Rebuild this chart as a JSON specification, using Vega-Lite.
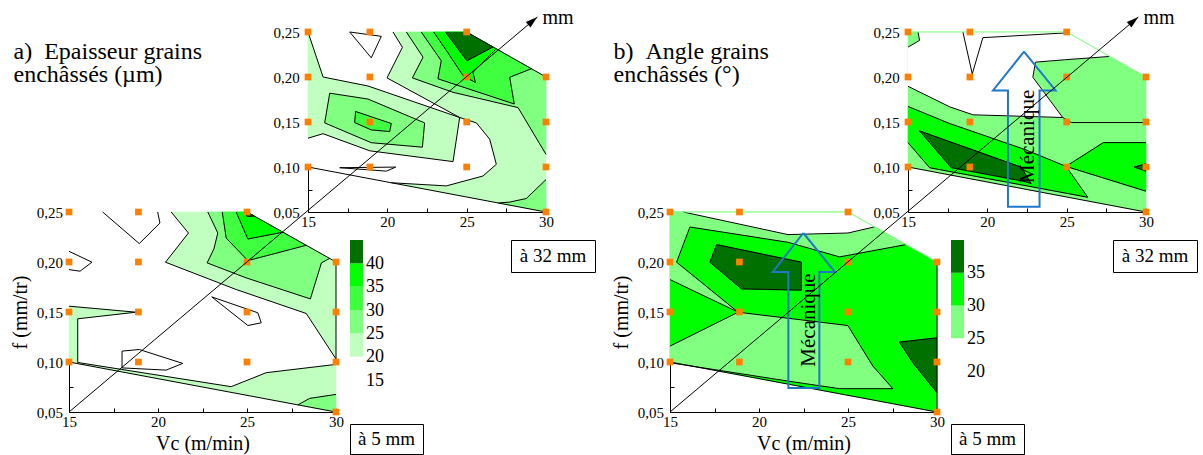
{
"$schema":"https://vega.github.io/schema/vega-lite/v6.json",
"background":"white",
"padding":{"left":10,"top":8,"right":2,"bottom":0},
"config":{
 "view":{"stroke":null},
 "font":"Liberation Serif, DejaVu Serif, serif",
 "axis":{"domainColor":"black","domainWidth":1,"tickColor":"black","tickSize":-4,"tickWidth":1,"labelColor":"black","labelFont":"Liberation Serif, DejaVu Serif, serif","labelFontSize":15,"labelOverlap":false,"labelFlush":false,"titleFont":"Liberation Serif, DejaVu Serif, serif","titleFontSize":20,"titleFontWeight":"normal","titleColor":"black","grid":false},
 "axisX":{"labelPadding":6.35,"titlePadding":4.5},
 "axisY":{"labelPadding":10.6,"titlePadding":6},
 "text":{"font":"Liberation Serif, DejaVu Serif, serif"}
},
"datasets":{
"pts":[{"x":15,"y":0.25},{"x":18.9,"y":0.25},{"x":25,"y":0.25},{"x":15,"y":0.2},{"x":18.9,"y":0.2},{"x":25,"y":0.2},{"x":30,"y":0.2},{"x":15,"y":0.15},{"x":18.9,"y":0.15},{"x":25,"y":0.15},{"x":30,"y":0.15},{"x":15,"y":0.1},{"x":18.9,"y":0.1},{"x":25,"y":0.1},{"x":30,"y":0.1},{"x":30,"y":0.05}],
"taP":[
{"l":0,"p":"b","x":15,"y":0.25},{"l":0,"p":"b","x":25,"y":0.25},{"l":0,"p":"b","x":30,"y":0.2},{"l":0,"p":"b","x":30,"y":0.05},{"l":0,"p":"b","x":15,"y":0.1},
{"l":1,"p":"r1","x":20.36,"y":0.25},{"l":1,"p":"r1","x":20.95,"y":0.233},{"l":1,"p":"r1","x":19.98,"y":0.199},{"l":1,"p":"r1","x":24.56,"y":0.155},{"l":1,"p":"r1","x":25.61,"y":0.149},{"l":1,"p":"r1","x":26.45,"y":0.131},{"l":1,"p":"r1","x":26.87,"y":0.103},{"l":1,"p":"r1","x":26.03,"y":0.09},{"l":1,"p":"r1","x":23.72,"y":0.079},{"l":1,"p":"r1","x":20.25,"y":0.0825},{"l":1,"p":"r1","x":30,"y":0.05},{"l":1,"p":"r1","x":30,"y":0.2},{"l":1,"p":"r1","x":25,"y":0.25},
{"l":1,"p":"r2","x":15,"y":0.25},{"l":1,"p":"r2","x":15.95,"y":0.2},{"l":1,"p":"r2","x":18.78,"y":0.19},{"l":1,"p":"r2","x":24.56,"y":0.155},{"l":1,"p":"r2","x":24.14,"y":0.106},{"l":1,"p":"r2","x":18.89,"y":0.118},{"l":1,"p":"r2","x":15.95,"y":0.137},{"l":1,"p":"r2","x":15,"y":0.132},
{"l":2,"p":"m1","x":21.2,"y":0.25},{"l":2,"p":"m1","x":22.25,"y":0.222},{"l":2,"p":"m1","x":21.58,"y":0.199},{"l":2,"p":"m1","x":24.14,"y":0.183},{"l":2,"p":"m1","x":28.24,"y":0.166},{"l":2,"p":"m1","x":30,"y":0.114},{"l":2,"p":"m1","x":30,"y":0.2},{"l":2,"p":"m1","x":25,"y":0.25},
{"l":2,"p":"m2","x":16.37,"y":0.182},{"l":2,"p":"m2","x":18.78,"y":0.1755},{"l":2,"p":"m2","x":22.35,"y":0.149},{"l":2,"p":"m2","x":22.21,"y":0.122},{"l":2,"p":"m2","x":18.99,"y":0.127},{"l":2,"p":"m2","x":16.05,"y":0.149},
{"l":2,"p":"m3","x":30,"y":0.086},{"l":2,"p":"m3","x":28.76,"y":0.065},{"l":2,"p":"m3","x":27.71,"y":0.061},{"l":2,"p":"m3","x":27,"y":0.06},{"l":2,"p":"m3","x":30,"y":0.05},
{"l":3,"p":"t1","x":22.14,"y":0.25},{"l":3,"p":"t1","x":23.4,"y":0.218},{"l":3,"p":"t1","x":23.19,"y":0.198},{"l":3,"p":"t1","x":28,"y":0.17},{"l":3,"p":"t1","x":27.71,"y":0.1997},{"l":3,"p":"t1","x":29.08,"y":0.2092},{"l":3,"p":"t1","x":25,"y":0.25},
{"l":3,"p":"t2","x":18,"y":0.1617},{"l":3,"p":"t2","x":20.25,"y":0.1483},{"l":3,"p":"t2","x":20.15,"y":0.1394},{"l":3,"p":"t2","x":18.99,"y":0.1412},{"l":3,"p":"t2","x":17.94,"y":0.1494},
{"l":4,"p":"u1","x":22.92,"y":0.25},{"l":4,"p":"u1","x":23.72,"y":0.2295},{"l":4,"p":"u1","x":24.77,"y":0.2016},{"l":4,"p":"u1","x":25.55,"y":0.1938},{"l":4,"p":"u1","x":25.4,"y":0.2053},{"l":4,"p":"u1","x":26.87,"y":0.2313},{"l":4,"p":"u1","x":25,"y":0.25},
{"l":5,"p":"d1","x":23.66,"y":0.25},{"l":5,"p":"d1","x":25.02,"y":0.218},{"l":5,"p":"d1","x":26.66,"y":0.2334},{"l":5,"p":"d1","x":25,"y":0.25}
],
"taL":[
{"p":"g1","x":20.36,"y":0.25},{"p":"g1","x":20.95,"y":0.233},{"p":"g1","x":19.98,"y":0.199},{"p":"g1","x":24.56,"y":0.155},{"p":"g1","x":25.61,"y":0.149},{"p":"g1","x":26.45,"y":0.131},{"p":"g1","x":26.87,"y":0.103},{"p":"g1","x":26.03,"y":0.09},{"p":"g1","x":23.72,"y":0.079},{"p":"g1","x":20.25,"y":0.0825},
{"p":"g2","x":15,"y":0.25},{"p":"g2","x":15.95,"y":0.2},{"p":"g2","x":18.78,"y":0.19},{"p":"g2","x":24.56,"y":0.155},{"p":"g2","x":24.14,"y":0.106},{"p":"g2","x":18.89,"y":0.118},{"p":"g2","x":15.95,"y":0.137},{"p":"g2","x":15,"y":0.132},
{"p":"g3","x":21.2,"y":0.25},{"p":"g3","x":22.25,"y":0.222},{"p":"g3","x":21.58,"y":0.199},{"p":"g3","x":24.14,"y":0.183},{"p":"g3","x":28.24,"y":0.166},{"p":"g3","x":30,"y":0.114},
{"p":"g4","x":16.37,"y":0.182},{"p":"g4","x":18.78,"y":0.1755},{"p":"g4","x":22.35,"y":0.149},{"p":"g4","x":22.21,"y":0.122},{"p":"g4","x":18.99,"y":0.127},{"p":"g4","x":16.05,"y":0.149},{"p":"g4","x":16.37,"y":0.182},
{"p":"g5","x":30,"y":0.086},{"p":"g5","x":28.76,"y":0.065},{"p":"g5","x":27.71,"y":0.061},{"p":"g5","x":27,"y":0.06},
{"p":"g6","x":22.14,"y":0.25},{"p":"g6","x":23.4,"y":0.218},{"p":"g6","x":23.19,"y":0.198},{"p":"g6","x":28,"y":0.17},{"p":"g6","x":27.71,"y":0.1997},{"p":"g6","x":29.08,"y":0.2092},
{"p":"g7","x":18,"y":0.1617},{"p":"g7","x":20.25,"y":0.1483},{"p":"g7","x":20.15,"y":0.1394},{"p":"g7","x":18.99,"y":0.1412},{"p":"g7","x":17.94,"y":0.1494},{"p":"g7","x":18,"y":0.1617},
{"p":"g8","x":22.92,"y":0.25},{"p":"g8","x":23.72,"y":0.2295},{"p":"g8","x":24.77,"y":0.2016},{"p":"g8","x":25.55,"y":0.1938},{"p":"g8","x":25.4,"y":0.2053},{"p":"g8","x":26.87,"y":0.2313},
{"p":"g9","x":23.66,"y":0.25},{"p":"g9","x":25.02,"y":0.218},{"p":"g9","x":26.66,"y":0.2334},
{"p":"g10","x":17.63,"y":0.25},{"p":"g10","x":19.62,"y":0.2452},{"p":"g10","x":18.99,"y":0.2213},{"p":"g10","x":17.63,"y":0.25},
{"p":"g11","x":17,"y":0.0992},{"p":"g11","x":20.53,"y":0.0999},{"p":"g11","x":19.94,"y":0.0954},{"p":"g11","x":17,"y":0.0992},
{"p":"g12","x":15,"y":0.1},{"p":"g12","x":30,"y":0.05},
{"p":"g13","x":25,"y":0.25},{"p":"g13","x":30,"y":0.2}
],
"baP":[
{"l":0,"p":"b","x":15,"y":0.25},{"l":0,"p":"b","x":25,"y":0.25},{"l":0,"p":"b","x":30,"y":0.2},{"l":0,"p":"b","x":30,"y":0.05},{"l":0,"p":"b","x":15,"y":0.1},
{"l":1,"p":"r1","x":20.74,"y":0.25},{"l":1,"p":"r1","x":21.71,"y":0.229},{"l":1,"p":"r1","x":20.42,"y":0.1998},{"l":1,"p":"r1","x":24.39,"y":0.1725},{"l":1,"p":"r1","x":28.33,"y":0.1485},{"l":1,"p":"r1","x":30,"y":0.103},{"l":1,"p":"r1","x":30,"y":0.2},{"l":1,"p":"r1","x":25,"y":0.25},
{"l":1,"p":"r2","x":15,"y":0.1558},{"l":1,"p":"r2","x":18.77,"y":0.1498},{"l":1,"p":"r2","x":15.49,"y":0.1432},{"l":1,"p":"r2","x":15.49,"y":0.0995},{"l":1,"p":"r2","x":24.11,"y":0.0753},{"l":1,"p":"r2","x":26.08,"y":0.0893},{"l":1,"p":"r2","x":30,"y":0.0976},{"l":1,"p":"r2","x":30,"y":0.05},{"l":1,"p":"r2","x":15,"y":0.1},
{"l":2,"p":"m1","x":22.8,"y":0.25},{"l":2,"p":"m1","x":23.36,"y":0.229},{"l":2,"p":"m1","x":23.14,"y":0.2131},{"l":2,"p":"m1","x":22.76,"y":0.1991},{"l":2,"p":"m1","x":24.96,"y":0.1841},{"l":2,"p":"m1","x":28.56,"y":0.1631},{"l":2,"p":"m1","x":29.18,"y":0.1991},{"l":2,"p":"m1","x":29.64,"y":0.2036},{"l":2,"p":"m1","x":25,"y":0.25},
{"l":2,"p":"m2","x":30,"y":0.0676},{"l":2,"p":"m2","x":28.52,"y":0.0636},{"l":2,"p":"m2","x":27.86,"y":0.0571},{"l":2,"p":"m2","x":30,"y":0.05},
{"l":3,"p":"t1","x":23.61,"y":0.25},{"l":3,"p":"t1","x":23.83,"y":0.224},{"l":3,"p":"t1","x":25.05,"y":0.2014},{"l":3,"p":"t1","x":28.33,"y":0.2167},{"l":3,"p":"t1","x":25,"y":0.25},
{"l":4,"p":"u1","x":24.39,"y":0.25},{"l":4,"p":"u1","x":25.05,"y":0.223},{"l":4,"p":"u1","x":27.02,"y":0.2298},{"l":4,"p":"u1","x":25,"y":0.25},
{"l":5,"p":"d1","x":24.86,"y":0.25},{"l":5,"p":"d1","x":25,"y":0.2455},{"l":5,"p":"d1","x":25.4,"y":0.246},{"l":5,"p":"d1","x":25,"y":0.25}
],
"baL":[
{"p":"g1","x":20.74,"y":0.25},{"p":"g1","x":21.71,"y":0.229},{"p":"g1","x":20.42,"y":0.1998},{"p":"g1","x":24.39,"y":0.1725},{"p":"g1","x":28.33,"y":0.1485},{"p":"g1","x":30,"y":0.103},
{"p":"g2","x":15,"y":0.1558},{"p":"g2","x":18.77,"y":0.1498},{"p":"g2","x":15.49,"y":0.1432},{"p":"g2","x":15.49,"y":0.0995},{"p":"g2","x":24.11,"y":0.0753},{"p":"g2","x":26.08,"y":0.0893},{"p":"g2","x":30,"y":0.0976},
{"p":"g3","x":22.8,"y":0.25},{"p":"g3","x":23.36,"y":0.229},{"p":"g3","x":23.14,"y":0.2131},{"p":"g3","x":22.76,"y":0.1991},{"p":"g3","x":24.96,"y":0.1841},{"p":"g3","x":28.56,"y":0.1631},{"p":"g3","x":29.18,"y":0.1991},{"p":"g3","x":29.64,"y":0.2036},
{"p":"g4","x":30,"y":0.0676},{"p":"g4","x":28.52,"y":0.0636},{"p":"g4","x":27.86,"y":0.0571},
{"p":"g5","x":23.61,"y":0.25},{"p":"g5","x":23.83,"y":0.224},{"p":"g5","x":25.05,"y":0.2014},{"p":"g5","x":28.33,"y":0.2167},
{"p":"g6","x":24.39,"y":0.25},{"p":"g6","x":25.05,"y":0.223},{"p":"g6","x":27.02,"y":0.2298},
{"p":"g7","x":24.86,"y":0.25},{"p":"g7","x":25,"y":0.2455},{"p":"g7","x":25.4,"y":0.246},
{"p":"g8","x":16.89,"y":0.25},{"p":"g8","x":18.95,"y":0.2184},{"p":"g8","x":20.11,"y":0.239},{"p":"g8","x":19.98,"y":0.25},
{"p":"g9","x":15,"y":0.2107},{"p":"g9","x":16.29,"y":0.1998},{"p":"g9","x":15.62,"y":0.1908},{"p":"g9","x":15,"y":0.1924},
{"p":"g10","x":23.02,"y":0.1651},{"p":"g10","x":25.61,"y":0.1492},{"p":"g10","x":25.8,"y":0.1392},{"p":"g10","x":25.05,"y":0.1365},{"p":"g10","x":23.02,"y":0.1651},
{"p":"g11","x":17.98,"y":0.1109},{"p":"g11","x":18.95,"y":0.1125},{"p":"g11","x":21.39,"y":0.0986},{"p":"g11","x":20.46,"y":0.0919},{"p":"g11","x":17.98,"y":0.0941},{"p":"g11","x":17.98,"y":0.1109},
{"p":"g12","x":15,"y":0.1},{"p":"g12","x":30,"y":0.05},
{"p":"g13","x":25,"y":0.25},{"p":"g13","x":30,"y":0.2},
{"p":"g14","x":30,"y":0.2},{"p":"g14","x":30,"y":0.103}
],
"tbP":[
{"l":0,"p":"b","x":15,"y":0.25},{"l":0,"p":"b","x":25,"y":0.25},{"l":0,"p":"b","x":30,"y":0.2},{"l":0,"p":"b","x":30,"y":0.05},{"l":0,"p":"b","x":15,"y":0.1},
{"l":1,"p":"w","x":15.63,"y":0.25},{"l":1,"p":"w","x":25,"y":0.25},{"l":1,"p":"w","x":27.69,"y":0.2228},{"l":1,"p":"w","x":24.86,"y":0.2191},{"l":1,"p":"w","x":23.03,"y":0.2165},{"l":1,"p":"w","x":22.87,"y":0.1997},{"l":1,"p":"w","x":24.75,"y":0.155},{"l":1,"p":"w","x":19.09,"y":0.158},{"l":1,"p":"w","x":17.62,"y":0.1669},{"l":1,"p":"w","x":15,"y":0.1897},{"l":1,"p":"w","x":15,"y":0.2332},{"l":1,"p":"w","x":15.73,"y":0.2407},
{"l":2,"p":"b1","x":15,"y":0.1673},{"l":2,"p":"b1","x":17.62,"y":0.1483},{"l":2,"p":"b1","x":22.34,"y":0.1196},{"l":2,"p":"b1","x":24.96,"y":0.1007},{"l":2,"p":"b1","x":26.33,"y":0.0664},{"l":2,"p":"b1","x":16.36,"y":0.0992},{"l":2,"p":"b1","x":15,"y":0.1271},
{"l":2,"p":"b2","x":24.96,"y":0.1007},{"l":2,"p":"b2","x":27.31,"y":0.1271},{"l":2,"p":"b2","x":30,"y":0.1271},{"l":2,"p":"b2","x":30,"y":0.0731},
{"l":3,"p":"d1","x":15.73,"y":0.1401},{"l":3,"p":"d1","x":17.73,"y":0.0992},{"l":3,"p":"d1","x":22.24,"y":0.0843},{"l":3,"p":"d1","x":22.76,"y":0.0817},{"l":3,"p":"d1","x":22.13,"y":0.0999},
{"l":3,"p":"d2","x":29.26,"y":0.0999},{"l":3,"p":"d2","x":30,"y":0.1036},{"l":3,"p":"d2","x":30,"y":0.0954}
],
"tbL":[
{"p":"g1","x":27.69,"y":0.2228},{"p":"g1","x":24.86,"y":0.2191},{"p":"g1","x":23.03,"y":0.2165},{"p":"g1","x":22.87,"y":0.1997},{"p":"g1","x":24.75,"y":0.155},{"p":"g1","x":19.09,"y":0.158},{"p":"g1","x":17.62,"y":0.1669},{"p":"g1","x":15,"y":0.1897},
{"p":"g2","x":15,"y":0.2332},{"p":"g2","x":15.73,"y":0.2407},{"p":"g2","x":15.63,"y":0.25},
{"p":"g3","x":18.46,"y":0.25},{"p":"g3","x":19.05,"y":0.2034},{"p":"g3","x":19.72,"y":0.2437},{"p":"g3","x":24.86,"y":0.2489},
{"p":"g4","x":24.75,"y":0.155},{"p":"g4","x":25.3,"y":0.1494},{"p":"g4","x":30,"y":0.1494},
{"p":"g5","x":15,"y":0.1673},{"p":"g5","x":17.62,"y":0.1483},{"p":"g5","x":22.34,"y":0.1196},{"p":"g5","x":24.96,"y":0.1007},{"p":"g5","x":26.33,"y":0.0664},{"p":"g5","x":16.36,"y":0.0992},{"p":"g5","x":15,"y":0.1271},
{"p":"g6","x":30,"y":0.1271},{"p":"g6","x":27.31,"y":0.1271},{"p":"g6","x":24.96,"y":0.1007},{"p":"g6","x":30,"y":0.0731},
{"p":"g7","x":15.73,"y":0.1401},{"p":"g7","x":17.73,"y":0.0992},{"p":"g7","x":22.24,"y":0.0843},{"p":"g7","x":22.76,"y":0.0817},{"p":"g7","x":22.13,"y":0.0999},{"p":"g7","x":15.73,"y":0.1401},
{"p":"g8","x":30,"y":0.1036},{"p":"g8","x":29.26,"y":0.0999},{"p":"g8","x":30,"y":0.0954},
{"p":"g9","x":15,"y":0.1},{"p":"g9","x":30,"y":0.05}
],
"bbP":[
{"l":0,"p":"b","x":15,"y":0.25},{"l":0,"p":"b","x":25,"y":0.25},{"l":0,"p":"b","x":30,"y":0.2},{"l":0,"p":"b","x":30,"y":0.05},{"l":0,"p":"b","x":15,"y":0.1},
{"l":1,"p":"a","x":15,"y":0.25},{"l":1,"p":"a","x":25,"y":0.25},{"l":1,"p":"a","x":28.26,"y":0.2174},{"l":1,"p":"a","x":24.53,"y":0.2051},{"l":1,"p":"a","x":21.63,"y":0.2197},{"l":1,"p":"a","x":16.12,"y":0.235},{"l":1,"p":"a","x":15.37,"y":0.1998},{"l":1,"p":"a","x":18.83,"y":0.1498},{"l":1,"p":"a","x":15,"y":0.1824},
{"l":1,"p":"c","x":15,"y":0.1159},{"l":1,"p":"c","x":18.83,"y":0.1498},{"l":1,"p":"c","x":24.99,"y":0.1365},{"l":1,"p":"c","x":26.4,"y":0.0959},{"l":1,"p":"c","x":27.52,"y":0.0733},{"l":1,"p":"c","x":24.53,"y":0.0733},{"l":1,"p":"c","x":21.63,"y":0.0809},{"l":1,"p":"c","x":15,"y":0.0993},
{"l":2,"p":"w","x":15.75,"y":0.25},{"l":2,"p":"w","x":25,"y":0.25},{"l":2,"p":"w","x":26.49,"y":0.2351},{"l":2,"p":"w","x":25,"y":0.229},{"l":2,"p":"w","x":21.63,"y":0.2274},
{"l":3,"p":"d1","x":17.62,"y":0.2174},{"l":3,"p":"d1","x":22.38,"y":0.1998},{"l":3,"p":"d1","x":22.38,"y":0.1718},{"l":3,"p":"d1","x":19.02,"y":0.1731},{"l":3,"p":"d1","x":17.24,"y":0.1998},
{"l":3,"p":"d2","x":27.89,"y":0.1199},{"l":3,"p":"d2","x":30,"y":0.1242},{"l":3,"p":"d2","x":30,"y":0.0693},{"l":3,"p":"d2","x":28.64,"y":0.0993}
],
"bbL":[
{"p":"g1","x":15.75,"y":0.25},{"p":"g1","x":21.63,"y":0.2274},{"p":"g1","x":25,"y":0.229},{"p":"g1","x":26.49,"y":0.2351},
{"p":"g2","x":28.26,"y":0.2174},{"p":"g2","x":24.53,"y":0.2051},{"p":"g2","x":21.63,"y":0.2197},{"p":"g2","x":16.12,"y":0.235},{"p":"g2","x":15.37,"y":0.1998},{"p":"g2","x":18.83,"y":0.1498},{"p":"g2","x":15,"y":0.1824},
{"p":"g3","x":15,"y":0.1159},{"p":"g3","x":18.83,"y":0.1498},{"p":"g3","x":24.99,"y":0.1365},{"p":"g3","x":26.4,"y":0.0959},{"p":"g3","x":27.52,"y":0.0733},{"p":"g3","x":24.53,"y":0.0733},{"p":"g3","x":21.63,"y":0.0809},{"p":"g3","x":15,"y":0.0993},
{"p":"g4","x":17.62,"y":0.2174},{"p":"g4","x":22.38,"y":0.1998},{"p":"g4","x":22.38,"y":0.1718},{"p":"g4","x":19.02,"y":0.1731},{"p":"g4","x":17.24,"y":0.1998},{"p":"g4","x":17.62,"y":0.2174},
{"p":"g5","x":30,"y":0.1242},{"p":"g5","x":27.89,"y":0.1199},{"p":"g5","x":28.64,"y":0.0993},{"p":"g5","x":30,"y":0.0693},
{"p":"g6","x":15,"y":0.1},{"p":"g6","x":30,"y":0.05},
{"p":"g7","x":30,"y":0.2},{"p":"g7","x":30,"y":0.05}
]
},
"concat":[
{"width":239,"height":180,"data":{"values":[]},"mark":"point"},
{"width":42,"height":180,
 "title":{"text":["a)\u00a0\u00a0Epaisseur grains","\u00a0\u00a0\u00a0\u00a0\u00a0enchâssés (µm)"],"anchor":"start","frame":"group","orient":"top","align":"left","baseline":"alphabetic","offset":0,"dx":-294.5,"dy":81,"fontSize":24,"font":"Liberation Serif, DejaVu Serif, serif","fontWeight":"normal","color":"black","lineHeight":23.5},
 "encoding":{
  "x":{"field":"x","type":"quantitative","scale":{"domain":[15,30],"range":[0,238],"nice":false,"zero":false},"axis":{"title":null,"values":[15,17.5,20,22.5,25,27.5,30],"labelExpr":"datum.value % 5 === 0 ? datum.label : ''"}},
  "y":{"field":"y","type":"quantitative","scale":{"domain":[0.05,0.25],"nice":false,"zero":false},"axis":{"title":null,"labelPadding":12.7,"values":[0.05,0.075,0.1,0.125,0.15,0.175,0.2,0.225,0.25],"labelExpr":"round(datum.value*1000) % 50 === 0 ? replace(format(datum.value, '.2f'), '.', ',') : ''"}}
 },
 "layer":[
  {"data":{"name":"taP"},"transform":[{"filter":"datum.l==0"}],"mark":{"type":"line","interpolate":"linear-closed","fill":"#ffffff","stroke":"#ffffff","strokeWidth":0.5},"encoding":{"detail":{"field":"p","type":"nominal"},"order":{"value":null}}},
  {"data":{"name":"taP"},"transform":[{"filter":"datum.l==1"}],"mark":{"type":"line","interpolate":"linear-closed","fill":"#c0ffc0","stroke":"#c0ffc0","strokeWidth":0.5},"encoding":{"detail":{"field":"p","type":"nominal"},"order":{"value":null}}},
  {"data":{"name":"taP"},"transform":[{"filter":"datum.l==2"}],"mark":{"type":"line","interpolate":"linear-closed","fill":"#80ff80","stroke":"#80ff80","strokeWidth":0.5},"encoding":{"detail":{"field":"p","type":"nominal"},"order":{"value":null}}},
  {"data":{"name":"taP"},"transform":[{"filter":"datum.l==3"}],"mark":{"type":"line","interpolate":"linear-closed","fill":"#40ff40","stroke":"#40ff40","strokeWidth":0.5},"encoding":{"detail":{"field":"p","type":"nominal"},"order":{"value":null}}},
  {"data":{"name":"taP"},"transform":[{"filter":"datum.l==4"}],"mark":{"type":"line","interpolate":"linear-closed","fill":"#00ff00","stroke":"#00ff00","strokeWidth":0.5},"encoding":{"detail":{"field":"p","type":"nominal"},"order":{"value":null}}},
  {"data":{"name":"taP"},"transform":[{"filter":"datum.l==5"}],"mark":{"type":"line","interpolate":"linear-closed","fill":"#007000","stroke":"#007000","strokeWidth":0.5},"encoding":{"detail":{"field":"p","type":"nominal"},"order":{"value":null}}},
  {"data":{"name":"taL"},"mark":{"type":"line","color":"black","strokeWidth":1},"encoding":{"detail":{"field":"p","type":"nominal"},"order":{"value":null}}},
  {"data":{"name":"pts"},"mark":{"type":"square","size":45,"color":"#ff8000","opacity":1}}
 ]},
{"width":161,"height":1,"data":{"values":[]},"mark":"point"},
{"width":159,"height":1,"data":{"values":[]},"mark":"point"},
{"width":238,"height":1,"data":{"values":[]},"mark":"point"},
{"width":43,"height":180,
 "title":{"text":["b)\u00a0\u00a0Angle grains","\u00a0\u00a0\u00a0\u00a0\u00a0enchâssés (°)"],"anchor":"start","frame":"group","orient":"top","align":"left","baseline":"alphabetic","offset":0,"dx":-294.5,"dy":81,"fontSize":24,"font":"Liberation Serif, DejaVu Serif, serif","fontWeight":"normal","color":"black","lineHeight":23.5},
 "encoding":{
  "x":{"field":"x","type":"quantitative","scale":{"domain":[15,30],"range":[0,238],"nice":false,"zero":false},"axis":{"title":null,"values":[15,17.5,20,22.5,25,27.5,30],"labelExpr":"datum.value % 5 === 0 ? datum.label : ''"}},
  "y":{"field":"y","type":"quantitative","scale":{"domain":[0.05,0.25],"nice":false,"zero":false},"axis":{"title":null,"labelPadding":12.7,"values":[0.05,0.075,0.1,0.125,0.15,0.175,0.2,0.225,0.25],"labelExpr":"round(datum.value*1000) % 50 === 0 ? replace(format(datum.value, '.2f'), '.', ',') : ''"}}
 },
 "layer":[
  {"data":{"name":"tbP"},"transform":[{"filter":"datum.l==0"}],"mark":{"type":"line","interpolate":"linear-closed","fill":"#80ff80","stroke":"#80ff80","strokeWidth":0.5},"encoding":{"detail":{"field":"p","type":"nominal"},"order":{"value":null}}},
  {"data":{"name":"tbP"},"transform":[{"filter":"datum.l==1"}],"mark":{"type":"line","interpolate":"linear-closed","fill":"#ffffff","stroke":"#ffffff","strokeWidth":0.5},"encoding":{"detail":{"field":"p","type":"nominal"},"order":{"value":null}}},
  {"data":{"name":"tbP"},"transform":[{"filter":"datum.l==2"}],"mark":{"type":"line","interpolate":"linear-closed","fill":"#00ff00","stroke":"#00ff00","strokeWidth":0.5},"encoding":{"detail":{"field":"p","type":"nominal"},"order":{"value":null}}},
  {"data":{"name":"tbP"},"transform":[{"filter":"datum.l==3"}],"mark":{"type":"line","interpolate":"linear-closed","fill":"#007000","stroke":"#007000","strokeWidth":0.5},"encoding":{"detail":{"field":"p","type":"nominal"},"order":{"value":null}}},
  {"data":{"name":"tbL"},"mark":{"type":"line","color":"black","strokeWidth":1},"encoding":{"detail":{"field":"p","type":"nominal"},"order":{"value":null}}},
  {"data":{"values":[{"x":15,"y":0.25},{"x":25,"y":0.25},{"x":30,"y":0.2}]},"mark":{"type":"line","color":"#80ff80","strokeWidth":1},"encoding":{"order":{"value":null}}},
  {"data":{"name":"pts"},"mark":{"type":"square","size":45,"color":"#ff8000","opacity":1}},
  {"data":{"values":[{"x":22.31,"y":0.2281},{"x":24.3,"y":0.1851},{"x":23.29,"y":0.1851},{"x":23.29,"y":0.0559},{"x":21.3,"y":0.0559},{"x":21.3,"y":0.1851},{"x":20.36,"y":0.1851},{"x":22.31,"y":0.2281}]},"mark":{"type":"line","color":"#1f78c8","strokeWidth":2},"encoding":{"order":{"value":null}}},
  {"data":{"values":[{"x":22.92,"y":0.134,"t":"Mécanique"}]},"mark":{"type":"text","angle":270,"align":"center","baseline":"alphabetic","fontSize":21,"color":"black"},"encoding":{"text":{"field":"t","type":"nominal"}}}
 ]},
{"width":162,"height":1,"data":{"values":[]},"mark":"point"},
{"width":84,"height":1,"data":{"values":[]},"mark":"point"},

{"width":239,"height":28,
 "encoding":{
  "x":{"field":"x","type":"quantitative","scale":{"domain":[15,30],"range":[0,267],"nice":false,"zero":false},"axis":{"title":"Vc (m/min)","offset":172,"values":[15,17.5,20,22.5,25,27.5,30],"labelExpr":"datum.value % 5 === 0 ? datum.label : ''"}},
  "y":{"field":"y","type":"quantitative","scale":{"domain":[0.05,0.25],"range":[200,0],"nice":false,"zero":false},"axis":{"title":"f (mm/tr)","values":[0.05,0.075,0.1,0.125,0.15,0.175,0.2,0.225,0.25],"labelExpr":"round(datum.value*1000) % 50 === 0 ? replace(format(datum.value, '.2f'), '.', ',') : ''"}}
 },
 "layer":[
  {"data":{"name":"baP"},"transform":[{"filter":"datum.l==0"}],"mark":{"type":"line","interpolate":"linear-closed","fill":"#ffffff","stroke":"#ffffff","strokeWidth":0.5},"encoding":{"detail":{"field":"p","type":"nominal"},"order":{"value":null}}},
  {"data":{"name":"baP"},"transform":[{"filter":"datum.l==1"}],"mark":{"type":"line","interpolate":"linear-closed","fill":"#c0ffc0","stroke":"#c0ffc0","strokeWidth":0.5},"encoding":{"detail":{"field":"p","type":"nominal"},"order":{"value":null}}},
  {"data":{"name":"baP"},"transform":[{"filter":"datum.l==2"}],"mark":{"type":"line","interpolate":"linear-closed","fill":"#80ff80","stroke":"#80ff80","strokeWidth":0.5},"encoding":{"detail":{"field":"p","type":"nominal"},"order":{"value":null}}},
  {"data":{"name":"baP"},"transform":[{"filter":"datum.l==3"}],"mark":{"type":"line","interpolate":"linear-closed","fill":"#40ff40","stroke":"#40ff40","strokeWidth":0.5},"encoding":{"detail":{"field":"p","type":"nominal"},"order":{"value":null}}},
  {"data":{"name":"baP"},"transform":[{"filter":"datum.l==4"}],"mark":{"type":"line","interpolate":"linear-closed","fill":"#00ff00","stroke":"#00ff00","strokeWidth":0.5},"encoding":{"detail":{"field":"p","type":"nominal"},"order":{"value":null}}},
  {"data":{"name":"baP"},"transform":[{"filter":"datum.l==5"}],"mark":{"type":"line","interpolate":"linear-closed","fill":"#007000","stroke":"#007000","strokeWidth":0.5},"encoding":{"detail":{"field":"p","type":"nominal"},"order":{"value":null}}},
  {"data":{"name":"baL"},"mark":{"type":"line","color":"black","strokeWidth":1},"encoding":{"detail":{"field":"p","type":"nominal"},"order":{"value":null}}},
  {"data":{"name":"pts"},"mark":{"type":"square","size":45,"color":"#ff8000","opacity":1}},
  {"data":{"values":[{"x":15,"y":0.05},{"x":41.31,"y":0.445}]},"mark":{"type":"line","color":"black","strokeWidth":1},"encoding":{"order":{"value":null}}},
  {"data":{"values":[{"x":41.31,"y":0.445}]},"mark":{"type":"point","shape":"M0,0L0.6,2L-0.6,2Z","filled":true,"color":"black","size":144,"angle":50,"opacity":1}},
  {"data":{"values":[{"x":41.6,"y":0.438,"t":"mm"}]},"mark":{"type":"text","align":"left","baseline":"alphabetic","fontSize":20,"color":"black"},"encoding":{"text":{"field":"t","type":"nominal"}}}
 ]},
{"width":1,"height":1,"data":{"values":[]},"mark":"point"},
{"width":1,"height":1,"data":{"values":[]},"mark":"point"},
{"width":1,"height":1,"data":{"values":[]},"mark":"point"},
{"width":238,"height":28,
 "encoding":{
  "x":{"field":"x","type":"quantitative","scale":{"domain":[15,30],"range":[0,267],"nice":false,"zero":false},"axis":{"title":"Vc (m/min)","offset":172,"values":[15,17.5,20,22.5,25,27.5,30],"labelExpr":"datum.value % 5 === 0 ? datum.label : ''"}},
  "y":{"field":"y","type":"quantitative","scale":{"domain":[0.05,0.25],"range":[200,0],"nice":false,"zero":false},"axis":{"title":"f (mm/tr)","values":[0.05,0.075,0.1,0.125,0.15,0.175,0.2,0.225,0.25],"labelExpr":"round(datum.value*1000) % 50 === 0 ? replace(format(datum.value, '.2f'), '.', ',') : ''"}}
 },
 "layer":[
  {"data":{"name":"bbP"},"transform":[{"filter":"datum.l==0"}],"mark":{"type":"line","interpolate":"linear-closed","fill":"#00ff00","stroke":"#00ff00","strokeWidth":0.5},"encoding":{"detail":{"field":"p","type":"nominal"},"order":{"value":null}}},
  {"data":{"name":"bbP"},"transform":[{"filter":"datum.l==1"}],"mark":{"type":"line","interpolate":"linear-closed","fill":"#80ff80","stroke":"#80ff80","strokeWidth":0.5},"encoding":{"detail":{"field":"p","type":"nominal"},"order":{"value":null}}},
  {"data":{"name":"bbP"},"transform":[{"filter":"datum.l==2"}],"mark":{"type":"line","interpolate":"linear-closed","fill":"#ffffff","stroke":"#ffffff","strokeWidth":0.5},"encoding":{"detail":{"field":"p","type":"nominal"},"order":{"value":null}}},
  {"data":{"name":"bbP"},"transform":[{"filter":"datum.l==3"}],"mark":{"type":"line","interpolate":"linear-closed","fill":"#007000","stroke":"#007000","strokeWidth":0.5},"encoding":{"detail":{"field":"p","type":"nominal"},"order":{"value":null}}},
  {"data":{"name":"bbL"},"mark":{"type":"line","color":"black","strokeWidth":1},"encoding":{"detail":{"field":"p","type":"nominal"},"order":{"value":null}}},
  {"data":{"values":[{"x":15,"y":0.25},{"x":25,"y":0.25},{"x":30,"y":0.2}]},"mark":{"type":"line","color":"#80ff80","strokeWidth":1},"encoding":{"order":{"value":null}}},
  {"data":{"name":"pts"},"mark":{"type":"square","size":45,"color":"#ff8000","opacity":1}},
  {"data":{"values":[{"x":22.49,"y":0.229},{"x":24.27,"y":0.19},{"x":23.39,"y":0.19},{"x":23.39,"y":0.074},{"x":21.65,"y":0.074},{"x":21.65,"y":0.19},{"x":20.77,"y":0.19},{"x":22.49,"y":0.229}]},"mark":{"type":"line","color":"#1f78c8","strokeWidth":2},"encoding":{"order":{"value":null}}},
  {"data":{"values":[{"x":23.15,"y":0.142,"t":"Mécanique"}]},"mark":{"type":"text","angle":270,"align":"center","baseline":"alphabetic","fontSize":21,"color":"black"},"encoding":{"text":{"field":"t","type":"nominal"}}},
  {"data":{"values":[{"x":15,"y":0.05},{"x":41.31,"y":0.445}]},"mark":{"type":"line","color":"black","strokeWidth":1},"encoding":{"order":{"value":null}}},
  {"data":{"values":[{"x":41.31,"y":0.445}]},"mark":{"type":"point","shape":"M0,0L0.6,2L-0.6,2Z","filled":true,"color":"black","size":144,"angle":50,"opacity":1}},
  {"data":{"values":[{"x":41.6,"y":0.438,"t":"mm"}]},"mark":{"type":"text","align":"left","baseline":"alphabetic","fontSize":20,"color":"black"},"encoding":{"text":{"field":"t","type":"nominal"}}}
 ]},
{"width":1,"height":1,"data":{"values":[]},"mark":"point"},
{"width":1,"height":1,"data":{"values":[]},"mark":"point"},
{"width":1,"height":1,"data":{"values":[]},"mark":"point"},

{"width":1,"height":1,"data":{"values":[]},"mark":"point"},
{"width":1,"height":1,"data":{"values":[]},"mark":"point"},
{"width":13,"height":184,"data":{"values":[{"lo":15,"hi":20,"c":"#ffffff"},{"lo":20,"hi":25,"c":"#c0ffc0"},{"lo":25,"hi":30,"c":"#80ff80"},{"lo":30,"hi":35,"c":"#40ff40"},{"lo":35,"hi":40,"c":"#00ff00"},{"lo":40,"hi":45,"c":"#007000"}]},
 "mark":{"type":"rect"},
 "encoding":{"y":{"field":"lo","type":"quantitative","scale":{"domain":[15,45],"range":[140,0],"nice":false,"zero":false},"axis":{"orient":"right","values":[15,20,25,30,35,40],"domain":false,"ticks":false,"labelPadding":2.5,"labelFontSize":18,"labelBaseline":"middle","title":null}},"y2":{"field":"hi"},"fill":{"field":"c","type":"nominal","scale":null}}},
{"width":84,"height":32,"view":{"stroke":"black","strokeWidth":1},"data":{"values":[{"t":"à 32 mm"}]},"mark":{"type":"text","fontSize":19,"color":"black"},"encoding":{"text":{"field":"t","type":"nominal"}}},
{"width":1,"height":1,"data":{"values":[]},"mark":"point"},
{"width":1,"height":1,"data":{"values":[]},"mark":"point"},
{"width":13,"height":184,"data":{"values":[{"lo":20,"hi":25,"c":"#ffffff"},{"lo":25,"hi":30,"c":"#80ff80"},{"lo":30,"hi":35,"c":"#00ff00"},{"lo":35,"hi":40,"c":"#007000"}]},
 "mark":{"type":"rect"},
 "encoding":{"y":{"field":"lo","type":"quantitative","scale":{"domain":[20,40],"range":[131,0],"nice":false,"zero":false},"axis":{"orient":"right","values":[20,25,30,35],"domain":false,"ticks":false,"labelPadding":2.5,"labelFontSize":18,"labelBaseline":"middle","title":null}},"y2":{"field":"hi"},"fill":{"field":"c","type":"nominal","scale":null}}},
{"width":84,"height":32,"view":{"stroke":"black","strokeWidth":1},"data":{"values":[{"t":"à 32 mm"}]},"mark":{"type":"text","fontSize":19,"color":"black"},"encoding":{"text":{"field":"t","type":"nominal"}}},

{"width":1,"height":1,"data":{"values":[]},"mark":"point"},
{"width":1,"height":1,"data":{"values":[]},"mark":"point"},
{"width":73,"height":30,"view":{"stroke":"black","strokeWidth":1},"data":{"values":[{"t":"à 5 mm"}]},"mark":{"type":"text","fontSize":19,"color":"black"},"encoding":{"text":{"field":"t","type":"nominal"}}},
{"width":1,"height":1,"data":{"values":[]},"mark":"point"},
{"width":1,"height":1,"data":{"values":[]},"mark":"point"},
{"width":1,"height":1,"data":{"values":[]},"mark":"point"},
{"width":73,"height":30,"view":{"stroke":"black","strokeWidth":1},"data":{"values":[{"t":"à 5 mm"}]},"mark":{"type":"text","fontSize":19,"color":"black"},"encoding":{"text":{"field":"t","type":"nominal"}}}
],
"columns":8,
"spacing":0,
"align":"each",
"bounds":"flush"
}
